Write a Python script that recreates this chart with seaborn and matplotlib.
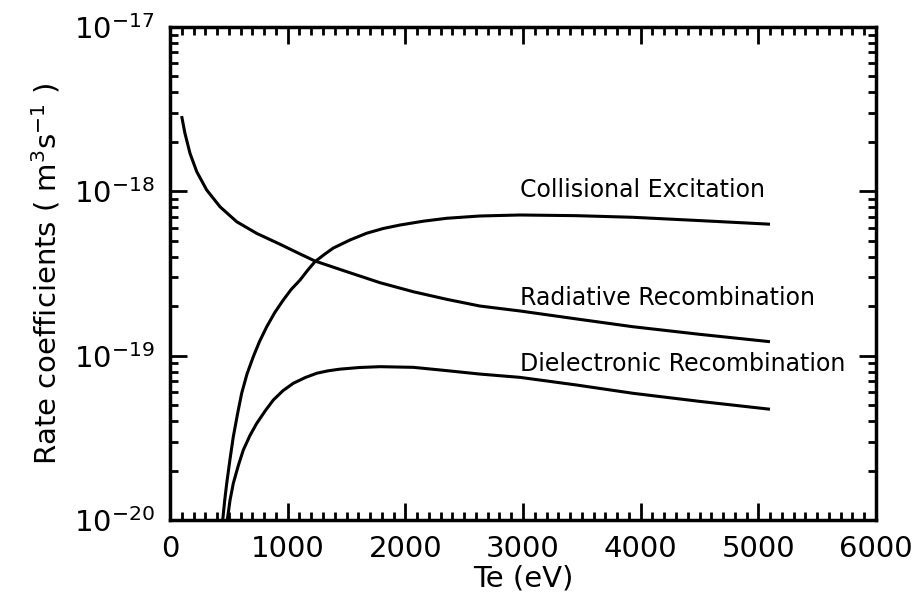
import numpy as np
import pandas as pd
import matplotlib
matplotlib.use("Agg")
import matplotlib.pyplot as plt
import seaborn as sns
from matplotlib.ticker import LogLocator, MultipleLocator, FixedLocator, NullFormatter

# Data (Te in eV, log10 rate coefficient in m^3 s^-1)
rr_te = [99, 127, 170, 227, 312, 425, 567, 737, 935, 1105, 1232, 1502, 1785, 2068, 2351, 2634, 2974, 3450, 3935, 4500, 5099]
rr_log = [-17.542, -17.647, -17.769, -17.880, -17.992, -18.094, -18.185, -18.256, -18.322, -18.381, -18.424, -18.489, -18.556, -18.611, -18.657, -18.698, -18.728, -18.776, -18.824, -18.870, -18.915]

ce_te = [448, 465, 482, 510, 538, 575, 609, 655, 708, 760, 822, 890, 963, 1030, 1105, 1170, 1232, 1310, 1388, 1530, 1671, 1813, 1955, 2150, 2351, 2634, 2974, 3450, 3935, 4500, 5099]
ce_log = [-20.0, -19.88, -19.777, -19.63, -19.493, -19.35, -19.229, -19.11, -19.006, -18.915, -18.824, -18.738, -18.661, -18.597, -18.54, -18.48, -18.428, -18.385, -18.345, -18.296, -18.255, -18.226, -18.205, -18.182, -18.164, -18.150, -18.144, -18.148, -18.158, -18.178, -18.2]

dr_te = [487, 510, 538, 580, 623, 680, 737, 810, 878, 960, 1048, 1150, 1247, 1345, 1445, 1610, 1785, 2068, 2351, 2634, 2974, 3450, 3935, 4500, 5099]
dr_log = [-20.0, -19.88, -19.777, -19.67, -19.574, -19.485, -19.412, -19.335, -19.270, -19.213, -19.168, -19.133, -19.107, -19.092, -19.082, -19.072, -19.067, -19.071, -19.091, -19.112, -19.132, -19.178, -19.229, -19.278, -19.326]

labels = ["Collisional Excitation", "Radiative Recombination", "Dielectronic Recombination"]
label_te = [2974, 2974, 2974]
label_log = [-17.99, -18.65, -19.05]

x_ticks = [0, 1000, 2000, 3000, 4000, 5000, 6000]
y_ticks = [1e-20, 1e-19, 1e-18, 1e-17]
y_ticklabels = [r"$10^{-20}$", r"$10^{-19}$", r"$10^{-18}$", r"$10^{-17}$"]

sns.set_style("ticks")
plt.rcParams["font.family"] = ["DejaVu Sans"]
plt.rcParams["mathtext.fontset"] = "dejavusans"
plt.rcParams["text.color"] = "black"
plt.rcParams["axes.labelcolor"] = "black"
plt.rcParams["xtick.color"] = "black"
plt.rcParams["ytick.color"] = "black"

fig = plt.figure(figsize=(9.14, 6.06), dpi=100)
ax = fig.add_axes([170/914, 1-520/606, (876-170)/914, (520-27)/606])

frames = []
for name, te, lg in [("CE", ce_te, ce_log), ("RR", rr_te, rr_log), ("DR", dr_te, dr_log)]:
    frames.append(pd.DataFrame({"Te": te, "rate": 10.0 ** np.array(lg), "series": name}))
df = pd.concat(frames, ignore_index=True)

sns.lineplot(data=df, x="Te", y="rate", units="series", estimator=None,
             color="black", linewidth=2.2, ax=ax, legend=False, sort=False,
             solid_joinstyle="round", solid_capstyle="butt")

ax.set_yscale("log")
ax.set_xlim(0, 6000)
ax.set_ylim(1e-20, 1e-17)

ax.xaxis.set_major_locator(FixedLocator(x_ticks))
ax.xaxis.set_minor_locator(MultipleLocator(100))
ax.yaxis.set_major_locator(FixedLocator(y_ticks))
ax.yaxis.set_minor_locator(LogLocator(base=10, subs=np.arange(2, 10)))
ax.yaxis.set_minor_formatter(NullFormatter())
ax.set_xticklabels([str(t) for t in x_ticks], fontsize=21, color="black")
ax.set_yticklabels(y_ticklabels, fontsize=21, color="black")

ax.tick_params(which="both", direction="in", top=True, right=True, width=2, color="black",
               labelcolor="black")
ax.tick_params(which="major", length=12, labelsize=21, pad=11)
ax.tick_params(which="minor", length=6)
for s in ax.spines.values():
    s.set_linewidth(2.5)
    s.set_color("black")

ax.set_xlabel("Te (eV)", fontsize=21, labelpad=1, color="black")
ax.set_ylabel(r"Rate coefficients ( m$^{3}$s$^{-1}$ )", fontsize=21, labelpad=8, color="black")

for t, x, y in zip(labels, label_te, label_log):
    ax.text(x, 10 ** y, t, fontsize=17, va="center", ha="left", color="black")

fig.savefig("out.png", dpi=100, facecolor="white")
